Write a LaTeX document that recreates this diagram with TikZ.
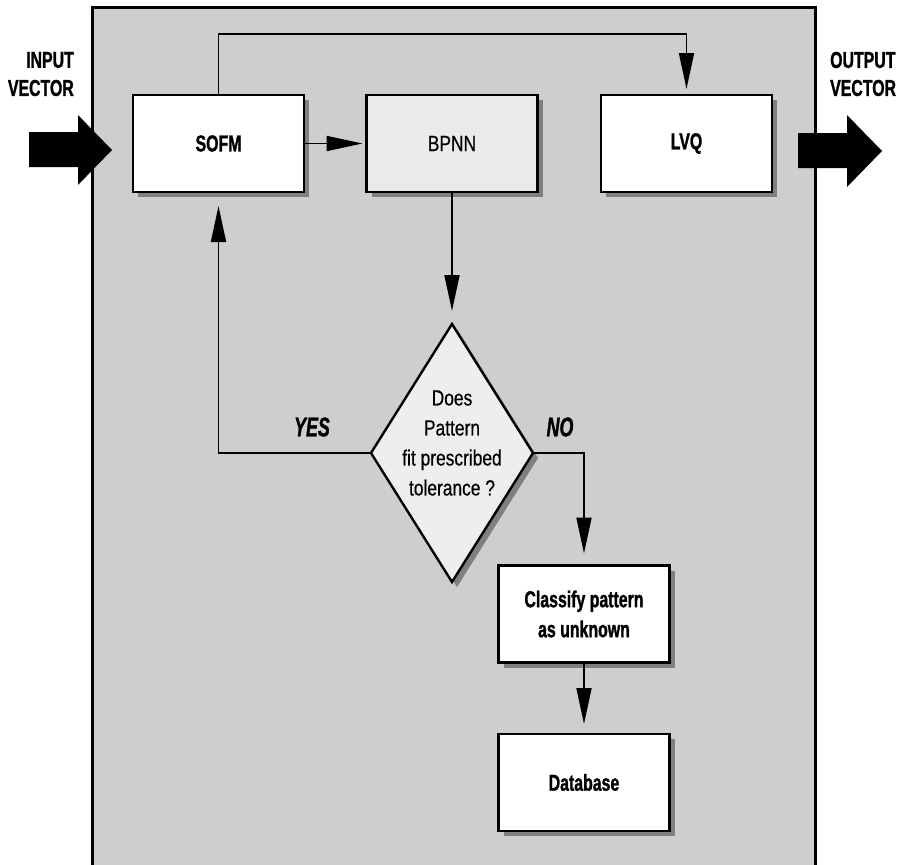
\documentclass[tikz,border=0pt]{standalone}
\usepackage{fontspec}
\setmainfont{Liberation Sans}
\newfontfamily\condb{Liberation Sans Bold}[FakeStretch=0.69,FakeBold=1.2]
\newfontfamily\condr{Liberation Sans}[FakeStretch=0.79,FakeBold=0.5]
\newfontfamily\condbi{Liberation Sans Bold Italic}[FakeStretch=0.66,FakeBold=1.2]
\usetikzlibrary{arrows.meta,shapes.geometric,shadows}
\definecolor{panelbg}{RGB}{206,206,206}
\definecolor{boxlight}{RGB}{234,234,234}
\definecolor{dialight}{RGB}{238,238,238}
\tikzset{
  blockbox/.style={draw=black, line width=2.4pt, fill=white, minimum width=171pt, minimum height=97pt,
    inner sep=0pt, outer sep=0pt, align=center,
    drop shadow={shadow xshift=5pt, shadow yshift=-5pt, fill=black!60, opacity=0.75},
    font=\condb\fontsize{23}{30}\selectfont},
  conn/.style={draw=black, line width=1.8pt, -{Triangle[length=36pt,width=15pt]}},
  lbl/.style={inner sep=0pt, font=\condb\fontsize{23}{28}\selectfont},
  answer/.style={inner sep=0pt, font=\condbi\fontsize{27}{28}\selectfont},
}
\begin{document}
\begin{tikzpicture}[x=1pt,y=-1pt]
\useasboundingbox (0,0) rectangle (898,865);
\fill[white] (0,0) rectangle (898,865);
% panel
\fill[panelbg] (92,7) rectangle (815,870);
\draw[line width=3pt] (92,870) -- (92,7) -- (815,7) -- (815,870);

% blocks
\node[blockbox] (sofm) at (218.5,143.5) {SOFM};
\node[blockbox, fill=boxlight, font=\condr\fontsize{22}{30}\selectfont] (bpnn) at (452,143.5) {BPNN};
\node[blockbox] (lvq) at (686.5,143.5) {LVQ};
\node[draw=black, line width=2.4pt, fill=dialight, shape=diamond, minimum width=162pt, minimum height=258pt,
  inner sep=0pt, outer sep=0pt,
  drop shadow={shadow xshift=5pt, shadow yshift=-5pt, fill=black!60, opacity=0.75}] (dia) at (452,453) {};
\node[align=center, inner sep=0pt, font=\condr\fontsize{22}{30}\selectfont] (diatext) at (452,443)
  {Does\\Pattern\\fit prescribed\\tolerance ?};
\node[blockbox] (cls) at (584,614) {Classify pattern\\as unknown};
\node[blockbox] (db) at (584,782.5) {Database};

% connectors
\coordinate (topturn) at (218.5,34);
\draw[conn, shorten >=6pt] (sofm.north) -- (topturn) -| (lvq.north);
\draw[conn, shorten >=4pt] (sofm.east) -- (bpnn.west);
\draw[conn, shorten >=13pt] (bpnn.south) -- (dia.north);
\draw[conn, shorten >=14pt] (dia.west) -| (sofm.south);
\draw[conn, shorten >=12pt] (dia.east) -| (cls.north);
\draw[conn, shorten >=10pt] (cls.south) -- (db.north);

% answers
\node[answer] (yes) at (312,427) {YES};
\node[answer] (no) at (560,427) {NO};

% input / output block arrows
\fill[black] (29,132) -- (78,132) -- (78,115) -- (112,150) -- (78,185) -- (78,167) -- (29,167) -- cycle;
\fill[black] (798,133) -- (847,133) -- (847,115) -- (882,151) -- (847,187) -- (847,168) -- (798,168) -- cycle;

\node[lbl, anchor=east] (in1) at (74,60) {INPUT};
\node[lbl, anchor=east] (in2) at (74,88) {VECTOR};
\node[lbl, anchor=west] (out1) at (830,60) {OUTPUT};
\node[lbl, anchor=west] (out2) at (830,88) {VECTOR};
\end{tikzpicture}
\end{document}
